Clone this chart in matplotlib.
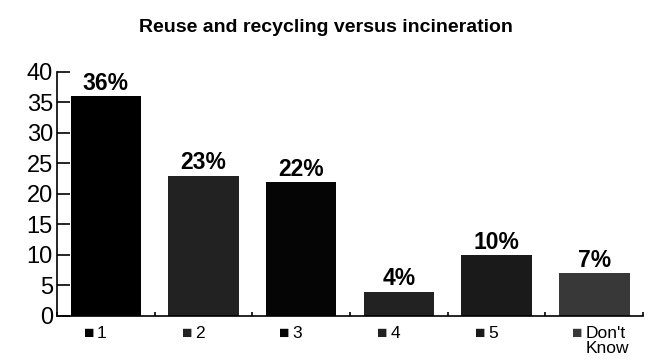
import matplotlib
matplotlib.use("Agg")
import matplotlib.pyplot as plt
import numpy as np

plt.rcParams['font.family'] = ['Liberation Sans', 'DejaVu Sans']

categories = ["1", "2", "3", "4", "5", "Don't\nKnow"]
values = [36, 23, 22, 4, 10, 7]
labels = ["36%", "23%", "22%", "4%", "10%", "7%"]
colors = ["#000000", "#222222", "#050505", "#222222", "#1a1a1a", "#383838"]

fig = plt.figure(figsize=(6.51, 3.61), dpi=100)
ax = fig.add_axes([0.0876, 0.1247, 0.9004, 0.6759])

x = np.arange(len(values))
ax.bar(x, values, width=0.72, color=colors)

for xi, v, lab in zip(x, values, labels):
    ax.text(xi, v + 0.2, lab, ha="center", va="bottom", fontsize=16.5, fontweight="bold")

ax.set_xlim(-0.5, len(values) - 0.5)
ax.set_ylim(0, 40)
ax.set_yticks(range(0, 41, 5))
ax.tick_params(axis="y", direction="in", length=9.5, width=1.2, labelsize=17, pad=3)
ax.set_xticks(np.arange(-0.5, len(values), 1.0))
ax.set_xticklabels([])
ax.tick_params(axis="x", direction="in", length=3, width=1.2)

for s in ["top", "right"]:
    ax.spines[s].set_visible(False)
for s in ["left", "bottom"]:
    ax.spines[s].set_linewidth(1.2)

trans = ax.get_xaxis_transform()
for xi, cat, c in zip(x, categories, colors):
    ax.text(xi - 0.17, -0.04, "■", color=c, ha="center", va="top", fontsize=12.5, transform=trans)
    ax.text(xi - 0.09, -0.04, cat, ha="left", va="top", fontsize=12.5, transform=trans, linespacing=1.0)

fig.text(0.5, 0.925, "Reuse and recycling versus incineration", ha="center", va="center",
         fontsize=14, fontweight="bold")

plt.savefig("out.png", dpi=100)
